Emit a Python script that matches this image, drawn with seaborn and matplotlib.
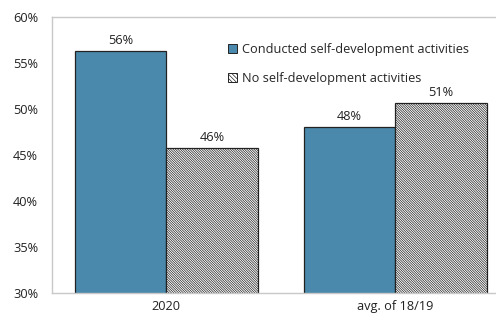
import matplotlib
matplotlib.use("Agg")
import matplotlib.pyplot as plt
import seaborn as sns
import pandas as pd
from matplotlib.patches import Patch
from matplotlib.ticker import FixedLocator

periods = ["2020", "avg. of 18/19"]
series = ["Conducted self-development activities", "No self-development activities"]
conducted = [56.3, 48.0]
not_conducted = [45.7, 50.6]
y_ticks = [30, 35, 40, 45, 50, 55, 60]

df = pd.DataFrame({
    "period": periods * 2,
    "group": [series[0]] * len(periods) + [series[1]] * len(periods),
    "share": conducted + not_conducted,
})

sns.set_theme(style="white")
plt.rcParams["font.family"] = ["Open Sans", "DejaVu Sans"]
plt.rcParams["hatch.linewidth"] = 0.5
plt.rcParams["hatch.color"] = "#555555"

fs = 9.2
blue = "#4a89ab"
fig, ax = plt.subplots(figsize=(4.96, 3.2), dpi=100)
fig.subplots_adjust(left=0.105, right=1.0, top=0.947, bottom=0.085)

sns.barplot(data=df, x="period", y="share", hue="group", hue_order=series,
            palette=[blue, "white"], width=0.8, gap=0, saturation=1,
            edgecolor="#222222", linewidth=0.9, legend=False, ax=ax)

for bar in ax.containers[1]:
    bar.set_hatch("\\" * 14)

for cont in ax.containers:
    ax.bar_label(cont, labels=[f"{v:.0f}%" for v in cont.datavalues],
                 padding=3, fontsize=fs, color="#222222")

ax.set_ylim(30, 60)
ax.set_xlim(-0.498, 1.44)
ax.set_yticks(y_ticks)
ax.set_yticklabels([f"{t}%" for t in y_ticks], fontsize=fs, color="#222222")
ax.set_xticks(range(len(periods)))
ax.set_xticklabels(periods, fontsize=fs, color="#222222")
ax.xaxis.set_minor_locator(FixedLocator([0.5]))
ax.tick_params(axis="x", which="major", length=0, pad=5)
ax.tick_params(axis="x", which="minor", direction="in", length=4, color="#c8c8c8", width=0.8)
ax.tick_params(axis="y", direction="out", length=3, color="#c8c8c8", width=0.8, pad=7)
ax.set_xlabel("")
ax.set_ylabel("")

for side in ["left", "top", "bottom"]:
    ax.spines[side].set_color("#c8c8c8")
    ax.spines[side].set_linewidth(1.0)
ax.spines["right"].set_visible(False)

handles = [
    Patch(facecolor=blue, edgecolor="#222222", linewidth=0.7),
    Patch(facecolor="white", edgecolor="#222222", linewidth=0.7, hatch="\\" * 8),
]
ax.legend(handles, series, loc="upper left", bbox_to_anchor=(0.385, 0.925),
          frameon=False, fontsize=fs, handlelength=0.7, handleheight=0.7,
          handletextpad=0.35, labelspacing=1.25, borderaxespad=0)

fig.savefig("out.png", dpi=100)
